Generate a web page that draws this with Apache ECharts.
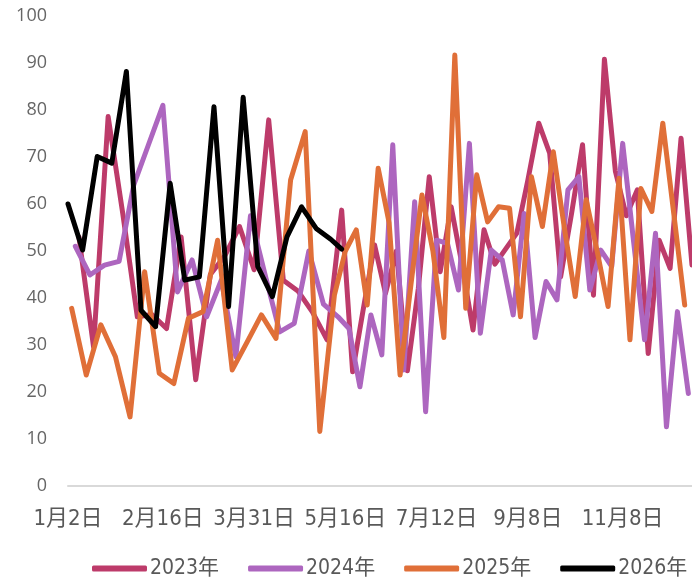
<!DOCTYPE html>
<html>
<head>
<meta charset="utf-8">
<script src="https://cdn.jsdelivr.net/npm/echarts@6/dist/echarts.min.js"></script>
<style>
  html, body { margin: 0; padding: 0; background: #ffffff; }
  #main { width: 692px; height: 586px; }
</style>
</head>
<body>
<div id="main"></div>
<script>
// Tick labels shown on the x axis
const tickLabels = ['1月2日', '2月16日', '3月31日', '5月16日', '7月12日', '9月8日', '11月8日'];
const seriesNames = ['2023年', '2024年', '2025年', '2026年'];

// Weekly observation dates for each year
function weekly(year, month, day, count) {
  const out = [];
  const start = Date.UTC(year, month - 1, day);
  for (let i = 0; i < count; i++) {
    const t = new Date(start + i * 7 * 86400000);
    out.push((t.getUTCMonth() + 1) + '月' + t.getUTCDate() + '日');
  }
  return out;
}
const dates2023 = weekly(2023, 1, 6, 51);
const dates2024 = weekly(2024, 1, 5, 51);
const dates2025 = weekly(2025, 1, 3, 51);
const dates2026 = weekly(2026, 1, 2, 19).concat(['5月12日']);

// Values
const values2023 = [53, 29.6, 78.6, 58, 36, 36.5, 33.5, 53, 22.6, 45,
  49, 55.2, 46, 77.9, 43.8, 41.5, 37, 31.1, 58.7, 24.3,
  38, 51.3, 41, 50, 24.5, 42, 65.8, 45.6, 59.4, 47,
  33.2, 54.5, 47.2, 50.5, 53.8, 65, 77.2, 70.8, 44.5, 58,
  72.6, 40.6, 90.8, 67, 57.5, 63, 28.2, 52.3, 46.3, 74,
  47];
const values2024 = [51, 44.9, 47, 47.8, 64, 72.5, 81, 41.3, 48.1, 36,
  43.8, 27.5, 57.5, 45, 32.8, 34.6, 50, 38.7, 36, 33.5,
  21.1, 36.4, 27.9, 72.6, 24.7, 60.5, 15.8, 52.3, 51.6, 41.7,
  72.9, 32.5, 50.2, 48.1, 36.4, 58, 31.6, 43.5, 39.6, 63,
  65.8, 41.7, 50.2, 46.7, 72.9, 52, 31.1, 53.8, 12.6, 37.1,
  19.7];
const values2025 = [37.8, 23.6, 34.3, 27.5, 14.7, 45.6, 24, 21.8, 35.7, 37.1,
  52.3, 24.7, 30.5, 36.4, 31.4, 65.1, 75.4, 11.6, 40.6, 50,
  54.5, 38.5, 67.6, 56, 23.6, 43, 61.9, 50, 31.6, 91.7,
  37.8, 66.2, 56.2, 59.4, 59.1, 36, 65.8, 55.2, 71.1, 55,
  40.3, 60.9, 50, 38.2, 65.5, 31.1, 63.3, 58.4, 77.2, 58,
  38.5];
const values2026 = [60, 50.2, 70.1, 68.7, 88.2, 37.4, 33.9, 64.4, 43.8, 44.5,
  80.7, 38.2, 82.7, 46.7, 40.3, 53, 59.4, 54.8, 52.5, 50.4];

const colors = ['#BD3B6A', '#AD66BF', '#E06F38', '#000000'];

// Build the shared category axis (union of month-day dates)
function key(s) {
  const m = s.match(/(\d+)月(\d+)日/);
  return (+m[1]) * 100 + (+m[2]);
}
const allDates = [dates2023, dates2024, dates2025, dates2026];
const allValues = [values2023, values2024, values2025, values2026];
const set = new Set();
allDates.forEach(ds => ds.forEach(d => set.add(d)));
const categories = Array.from(set).sort((a, b) => key(a) - key(b));

function align(ds, vs) {
  const m = new Map();
  ds.forEach((d, i) => m.set(d, vs[i]));
  return categories.map(c => (m.has(c) ? m.get(c) : null));
}

const labelFont = '"Liberation Sans Narrow", "DejaVu Sans Condensed", "Noto Sans CJK SC", sans-serif';

const chart = echarts.init(document.getElementById('main'), null, { renderer: 'canvas' });
chart.setOption({
  animation: false,
  backgroundColor: '#ffffff',
  grid: { left: 68, right: -4, top: 16, bottom: 100, containLabel: false },
  legend: {
    data: seriesNames,
    left: 92,
    top: 558,
    width: 640,
    padding: 0,
    icon: 'roundRect',
    itemWidth: 55,
    itemHeight: 6,
    itemGap: 29,
    textStyle: { fontSize: 21, color: '#595959', fontFamily: labelFont, padding: [0, 0, 0, -2] }
  },
  xAxis: {
    type: 'category',
    data: categories,
    boundaryGap: false,
    axisLine: { show: true, lineStyle: { color: '#D9D9D9', width: 2 } },
    axisTick: { show: false },
    splitLine: { show: false },
    axisLabel: {
      interval: function (index, value) { return tickLabels.indexOf(value) >= 0; },
      fontSize: 22,
      color: '#595959',
      fontFamily: labelFont,
      margin: 22
    }
  },
  yAxis: {
    type: 'value',
    min: 0,
    max: 100,
    interval: 10,
    axisLine: { show: false },
    axisTick: { show: false },
    splitLine: { show: false },
    axisLabel: {
      fontSize: 18,
      color: '#666666',
      fontFamily: '"Open Sans", "Noto Sans", sans-serif',
      margin: 21
    }
  },
  series: seriesNames.map((name, i) => ({
    name: name,
    type: 'line',
    data: align(allDates[i], allValues[i]),
    connectNulls: true,
    showSymbol: false,
    symbol: 'none',
    color: colors[i],
    lineStyle: { color: colors[i], width: 5, join: 'round', cap: 'round' },
    z: 2 + i
  }))
});
</script>
</body>
</html>
